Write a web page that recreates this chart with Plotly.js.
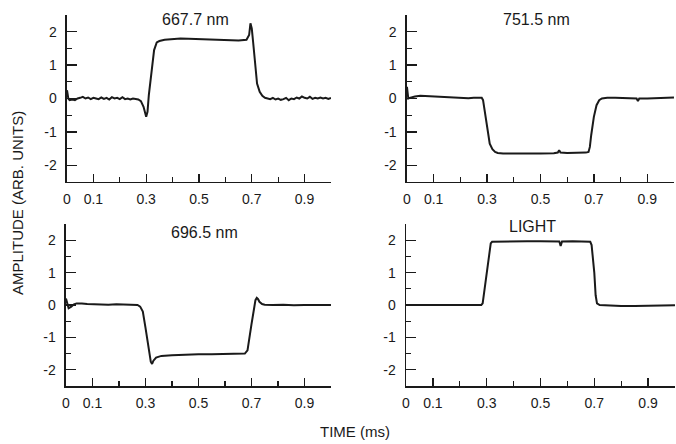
<!DOCTYPE html>
<html>
<head>
<meta charset="utf-8">
<script src="https://cdn.plot.ly/plotly-3.0.1.min.js"></script>
<style>html,body{margin:0;padding:0;background:#fff;}#chart{width:676px;height:444px;}</style>
</head>
<body>
<div id="chart"></div>
<script>
// Panel titles
const panelTitles = ["667.7 nm", "751.5 nm", "696.5 nm", "LIGHT"];

// Tick labels
const xTickVals = [0, 0.1, 0.3, 0.5, 0.7, 0.9];
const xTickText = ["0", "0.1", "0.3", "0.5", "0.7", "0.9"];
const yTickVals = [-2, -1, 0, 1, 2];
const yTickText = ["-2", "-1", "0", "1", "2"];

// 667.7 nm
const tA = [0,0.005,0.01,0.02,0.03,0.04,0.05,0.06,0.07,0.08,0.09,0.10,0.11,0.12,0.13,0.14,0.15,0.16,0.17,0.18,0.19,0.20,0.21,0.22,0.23,0.24,0.25,0.26,0.27,0.28,0.29,0.30,0.305,0.31,0.32,0.33,0.34,0.35,0.37,0.40,0.43,0.46,0.50,0.55,0.60,0.65,0.68,0.69,0.695,0.70,0.705,0.71,0.715,0.72,0.73,0.74,0.75,0.76,0.77,0.78,0.79,0.80,0.81,0.82,0.83,0.84,0.85,0.86,0.87,0.88,0.89,0.90,0.91,0.92,0.93,0.94,0.95,0.96,0.97,0.98,0.99,1.0];
const vA = [0.25,0.0,-0.05,-0.03,-0.05,0.0,0.02,0.05,0.0,0.03,-0.02,0.02,0.0,-0.02,0.03,-0.01,0.02,-0.03,0.04,0.0,0.02,-0.02,0.04,-0.02,0.0,-0.03,0.0,-0.02,-0.03,-0.08,-0.25,-0.55,-0.4,0.1,0.8,1.45,1.68,1.72,1.76,1.78,1.8,1.79,1.78,1.76,1.74,1.74,1.76,1.9,2.25,2.1,1.7,1.2,0.8,0.45,0.2,0.08,0.02,0.0,-0.02,0.02,-0.03,0.0,-0.04,-0.02,0.02,-0.05,0.0,-0.02,0.03,0.0,0.06,0.02,0.0,0.05,-0.01,0.02,0.0,0.03,0.0,0.02,-0.01,0.02];

// 751.5 nm
const tB = [0,0.005,0.01,0.02,0.03,0.05,0.07,0.09,0.11,0.13,0.15,0.17,0.19,0.21,0.23,0.25,0.27,0.28,0.285,0.29,0.30,0.31,0.32,0.33,0.34,0.36,0.40,0.45,0.50,0.55,0.565,0.57,0.575,0.60,0.64,0.67,0.68,0.685,0.69,0.70,0.71,0.72,0.73,0.75,0.78,0.82,0.86,0.865,0.87,0.90,0.94,0.97,1.0];
const vB = [0.35,0.0,0.02,0.05,0.06,0.08,0.07,0.08,0.06,0.05,0.03,0.04,0.02,0.02,0.01,0.02,0.02,0.02,-0.05,-0.3,-0.9,-1.35,-1.52,-1.6,-1.63,-1.65,-1.65,-1.66,-1.65,-1.64,-1.62,-1.55,-1.62,-1.63,-1.63,-1.62,-1.6,-1.45,-1.1,-0.55,-0.2,-0.05,0.0,0.02,0.02,0.01,0.0,-0.08,0.0,0.0,0.01,0.02,0.03];

// 696.5 nm
const tC = [0,0.005,0.01,0.02,0.03,0.04,0.05,0.06,0.08,0.10,0.13,0.16,0.19,0.22,0.25,0.27,0.28,0.29,0.30,0.31,0.32,0.325,0.33,0.34,0.36,0.40,0.45,0.50,0.55,0.60,0.65,0.675,0.685,0.69,0.70,0.71,0.715,0.72,0.725,0.73,0.74,0.75,0.78,0.82,0.86,0.90,0.94,1.0];
const vC = [0.2,0.05,-0.1,-0.05,0.02,0.05,0.06,0.05,0.03,0.02,0.02,0.01,0.02,0.01,0.01,0.0,-0.05,-0.2,-0.7,-1.3,-1.75,-1.82,-1.72,-1.62,-1.57,-1.55,-1.53,-1.52,-1.52,-1.51,-1.51,-1.5,-1.4,-1.1,-0.6,-0.1,0.15,0.22,0.18,0.1,0.03,0.01,0.0,0.01,-0.01,0.0,0.0,0.0];

// LIGHT
const tD = [0,0.05,0.10,0.15,0.20,0.25,0.28,0.285,0.30,0.315,0.32,0.35,0.40,0.45,0.50,0.55,0.57,0.575,0.58,0.62,0.66,0.685,0.69,0.70,0.705,0.71,0.72,0.76,0.80,0.85,0.90,0.95,1.0];
const vD = [0.0,0.0,0.0,0.0,0.0,0.0,0.0,0.05,0.9,1.9,1.95,1.96,1.97,1.97,1.97,1.97,1.96,1.82,1.96,1.97,1.96,1.95,1.85,1.0,0.3,0.05,0.0,-0.02,-0.03,-0.03,-0.02,-0.02,-0.01];

const series = [[tA, vA], [tB, vB], [tC, vC], [tD, vD]];
const axNames = [["x", "y"], ["x2", "y2"], ["x3", "y3"], ["x4", "y4"]];

const traces = series.map((s, i) => ({
  x: s[0], y: s[1], type: "scatter", mode: "lines",
  xaxis: axNames[i][0], yaxis: axNames[i][1],
  line: {color: "#1a1a1a", width: 2}, hoverinfo: "skip"
}));

const ink = "#1a1a1a";
const tickFont = {family: "Arial, Liberation Sans, sans-serif", size: 14, color: ink};

function xAxis(domain, anchor) {
  return {
    domain: domain, anchor: anchor, range: [0, 1],
    showgrid: false, zeroline: false, showline: true, linecolor: ink, linewidth: 1.5,
    ticks: "inside", ticklen: 8, tickwidth: 1.3, tickcolor: ink,
    tickmode: "array", tickvals: xTickVals, ticktext: xTickText,
    tickfont: tickFont, ticklabelstandoff: 4,
    minor: {dtick: 0.1, tick0: 0, ticks: "inside", ticklen: 5, tickwidth: 1.2, tickcolor: ink}
  };
}
function yAxis(domain, anchor) {
  return {
    domain: domain, anchor: anchor, range: [-2.5, 2.5],
    showgrid: false, zeroline: false, showline: true, linecolor: ink, linewidth: 1.5,
    ticks: "inside", ticklen: 10, tickwidth: 1.3, tickcolor: ink,
    tickmode: "array", tickvals: yTickVals, ticktext: yTickText,
    tickfont: tickFont, ticklabelstandoff: 6,
    minor: {dtick: 0.5, tick0: -2.5, ticks: "inside", ticklen: 5, tickwidth: 1.2, tickcolor: ink}
  };
}

const topDom = [0.5901, 0.9662];
const botDom = [0.1306, 0.4955];

const titleFont = {family: "Arial, Liberation Sans, sans-serif", size: 16, color: ink};
const titlePos = [[0.2885, 0.955], [0.794, 0.955], [0.303, 0.477], [0.788, 0.489]];

const annotations = panelTitles.map((t, i) => ({
  text: t, xref: "paper", yref: "paper", x: titlePos[i][0], y: titlePos[i][1],
  xanchor: "center", yanchor: "middle", showarrow: false, font: titleFont
}));
annotations.push({
  text: "AMPLITUDE (ARB. UNITS)", xref: "paper", yref: "paper", x: 17/676, y: 1 - 203/444,
  xanchor: "center", yanchor: "middle", showarrow: false, textangle: -90,
  font: {family: "Arial, Liberation Sans, sans-serif", size: 15, color: ink}
});
annotations.push({
  text: "TIME (ms)", xref: "paper", yref: "paper", x: 355/676, y: 1 - 431/444,
  xanchor: "center", yanchor: "middle", showarrow: false,
  font: {family: "Arial, Liberation Sans, sans-serif", size: 15, color: ink}
});

const layout = {
  width: 676, height: 444,
  margin: {l: 0, r: 0, t: 0, b: 0},
  paper_bgcolor: "#fff", plot_bgcolor: "#fff",
  showlegend: false,
  xaxis: xAxis([0.0991, 0.4896], "y"),
  yaxis: yAxis(topDom, "x"),
  xaxis2: xAxis([0.602, 0.997], "y2"),
  yaxis2: yAxis(topDom, "x2"),
  xaxis3: xAxis([0.0976, 0.4896], "y3"),
  yaxis3: yAxis(botDom, "x3"),
  xaxis4: xAxis([0.6006, 0.9985], "y4"),
  yaxis4: yAxis(botDom, "x4"),
  annotations: annotations
};

Plotly.newPlot("chart", traces, layout, {staticPlot: true, displayModeBar: false});
</script>
</body>
</html>
